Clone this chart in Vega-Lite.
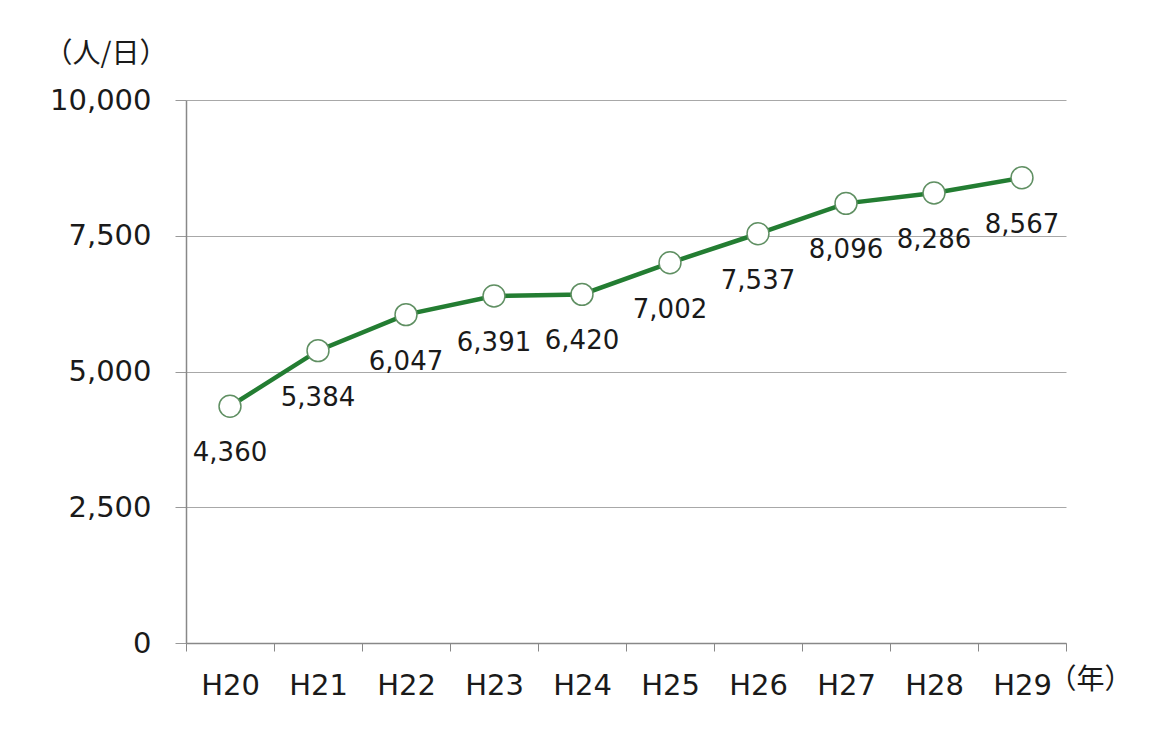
{
  "$schema": "https://vega.github.io/schema/vega-lite/v6.json",
  "width": 880,
  "height": 543,
  "autosize": {"type": "none"},
  "padding": {"left": 186, "top": 100, "right": 90, "bottom": 87},
  "background": "white",
  "config": {
    "view": {"stroke": null},
    "font": "DejaVu Sans"
  },
  "data": {
    "values": [
      {"year": "H20", "value": 4360, "label": "4,360"},
      {"year": "H21", "value": 5384, "label": "5,384"},
      {"year": "H22", "value": 6047, "label": "6,047"},
      {"year": "H23", "value": 6391, "label": "6,391"},
      {"year": "H24", "value": 6420, "label": "6,420"},
      {"year": "H25", "value": 7002, "label": "7,002"},
      {"year": "H26", "value": 7537, "label": "7,537"},
      {"year": "H27", "value": 8096, "label": "8,096"},
      {"year": "H28", "value": 8286, "label": "8,286"},
      {"year": "H29", "value": 8567, "label": "8,567"}
    ]
  },
  "encoding": {
    "x": {
      "field": "year",
      "type": "ordinal",
      "scale": {"type": "band", "paddingInner": 0, "paddingOuter": 0},
      "axis": {
        "title": "（年）",
        "titleFont": "Noto Sans CJK JP",
        "titleFontSize": 28,
        "titleFontWeight": "normal",
        "titleColor": "#1a1a1a",
        "titleAlign": "left",
        "titleBaseline": "middle",
        "titleX": 862,
        "titleY": 37,
        "labelAngle": 0,
        "labelFontSize": 29,
        "labelColor": "#1a1a1a",
        "labelPadding": 20,
        "tickBand": "extent",
        "tickSize": 8,
        "tickColor": "#888888",
        "domainColor": "#888888",
        "domainWidth": 1.5,
        "grid": false
      }
    },
    "y": {
      "field": "value",
      "type": "quantitative",
      "scale": {"domain": [0, 10000]},
      "axis": {
        "values": [0, 2500, 5000, 7500, 10000],
        "format": ",d",
        "title": "（人/日）",
        "titleFont": "Noto Sans CJK JP",
        "titleFontSize": 28,
        "titleFontWeight": "normal",
        "titleColor": "#1a1a1a",
        "titleAngle": 0,
        "titleAlign": "left",
        "titleBaseline": "middle",
        "titleX": -142,
        "titleY": -46,
        "labelFontSize": 29,
        "labelColor": "#1a1a1a",
        "labelPadding": 24,
        "tickSize": 11,
        "tickColor": "#999999",
        "domainColor": "#888888",
        "domainWidth": 1.5,
        "grid": true,
        "gridColor": "#a8a8a8",
        "gridWidth": 1
      }
    }
  },
  "layer": [
    {
      "mark": {"type": "line", "color": "#237d32", "strokeWidth": 4.5},
      "encoding": {}
    },
    {
      "mark": {"type": "point", "filled": true, "fill": "white", "stroke": "#5f8f62", "strokeWidth": 1.5, "size": 480, "opacity": 1},
      "encoding": {}
    },
    {
      "mark": {"type": "text", "dy": 47, "fontSize": 26, "color": "#1a1a1a", "baseline": "middle", "align": "center"},
      "encoding": {"text": {"field": "label"}}
    }
  ]
}
